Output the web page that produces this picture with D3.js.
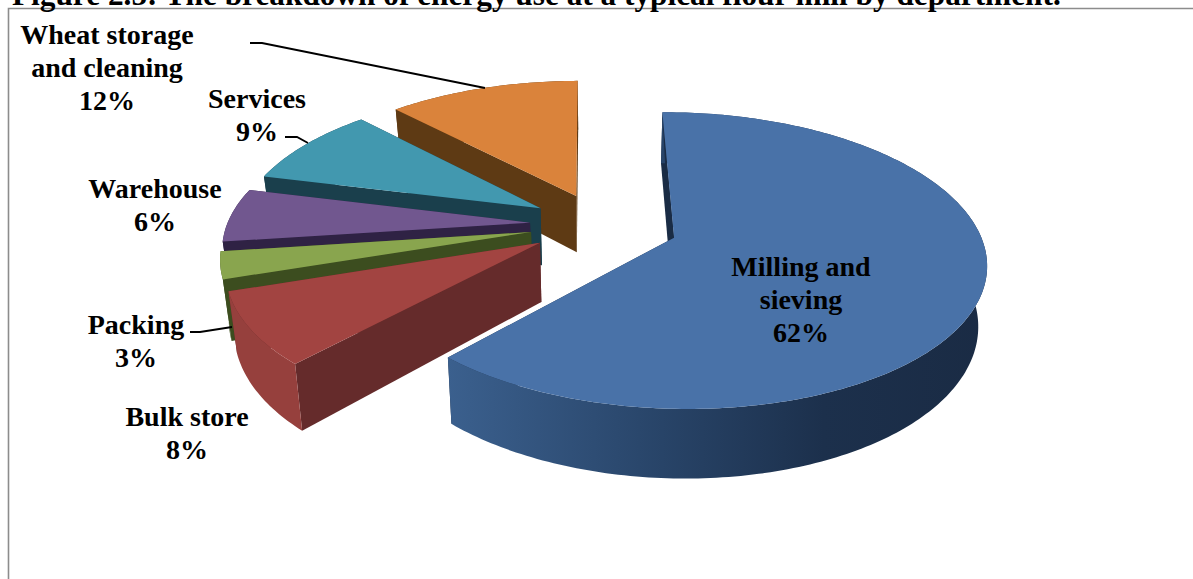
<!DOCTYPE html>
<html><head><meta charset="utf-8">
<script src="https://cdn.jsdelivr.net/npm/d3@7"></script>
<style>html,body{margin:0;padding:0;background:#fff;overflow:hidden}svg{display:block}</style>
</head><body><div id="chart"></div>
<script>
const titleText = "Figure 2.5: The breakdown of energy use at a typical flour mill by department.";
const categories = ["Milling and sieving","Bulk store","Packing","Warehouse","Services","Wheat storage and cleaning"];
const values = [62,8,3,6,9,12];
const topColors = ["#4972a8","#a24441","#89a54e","#71578f","#4298af","#da833b"];
const wallColors = ["#1a2c45","#652b2b","#3c4d1f","#2f2244","#1a3f4c","#5e3a14"];
const bandColors = ["url(#blueSide)","#96403d","#3c4d1f","#2f2244","#1a3f4c","#5e3a14"];
const explosions = [0.255,0.235,0.235,0.235,0.235,0.225];
const labelLines = [["Milling and","sieving","62%"],["Bulk store","8%"],["Packing","3%"],["Warehouse","6%"],["Services","9%"],["Wheat storage","and cleaning","12%"]];

const W=1193,H=579;
const svg=d3.select("#chart").append("svg").attr("width",W).attr("height",H);
const FONT="'Liberation Serif','Times New Roman',serif";

svg.append("path").attr("d",`M8.5,${H}V8.5H${W}`).attr("fill","none").attr("stroke","#8c8c8c").attr("stroke-width",1.6);
svg.append("text").attr("x",12).attr("y",5).attr("font-family",FONT).attr("font-weight","bold")
  .attr("font-size",31.3).attr("fill","#000").text(titleText);

const CX=601,CY=224.5,R=303,TILT=144/310,K=0.1525,DEPTH=58,LEAN=0.023,START=-0.4;
const sx=d3.scaleLinear().domain([0,1]).range([0,R]);
const sy=d3.scaleLinear().domain([0,1]).range([0,R*TILT]);
function project(px,py,bottom){
  const f=1/(1+K*py);
  let X=CX+sx(px)*f, Y=CY-sy(py)*f;
  if(bottom){X-=(X-CX)*LEAN;Y+=DEPTH*f;}
  return [X,Y];
}
const pie=d3.pie().sort(null).startAngle(START*Math.PI/180).endAngle((360+START)*Math.PI/180);
const arcs=pie(values);
const line=d3.line();
const defs=svg.append("defs");
const grad=defs.append("linearGradient").attr("id","blueSide").attr("gradientUnits","userSpaceOnUse")
  .attr("x1",447).attr("x2",985).attr("y1",0).attr("y2",0);
[[0,"#3b608e"],[0.4,"#284468"],[0.7,"#1c304c"],[1,"#1a2b44"]].forEach(s=>grad.append("stop").attr("offset",s[0]).attr("stop-color",s[1]));

const order=[5,4,3,2,1,0];
order.forEach(i=>{
  const a=arcs[i], mid=(a.startAngle+a.endAngle)/2;
  const ox=explosions[i]*Math.sin(mid), oy=explosions[i]*Math.cos(mid);
  const g=svg.append("g");
  const pt=t=>[ox+Math.sin(t),oy+Math.cos(t)];
  const n=Math.ceil((a.endAngle-a.startAngle)*180/Math.PI);
  const ts=d3.range(n+1).map(j=>a.startAngle+(a.endAngle-a.startAngle)*j/n);
  const rim=ts.map(pt);
  const apex=[ox,oy];
  const quad=(p,q)=>[project(...p,false),project(...q,false),project(...q,true),project(...p,true)];
  const walls=[
    {d:quad(apex,rim[0]),c:wallColors[i],y:(apex[1]+rim[0][1])/2},
    {d:quad(apex,rim[n]),c:wallColors[i],y:(apex[1]+rim[n][1])/2}];
  const band={d:rim.map(p=>project(...p,false)).concat(rim.slice().reverse().map(p=>project(...p,true))),c:bandColors[i],y:d3.mean(rim,p=>p[1])};
  const faces = i===0 ? [...walls,band] : [...walls,band].sort((u,v)=>v.y-u.y);
  faces.forEach(f=>g.append("path").attr("d",line(f.d)+"Z").attr("fill",f.c));
  const top=[apex].concat(rim).map(p=>project(...p,false));
  if(i===0){
    const A=top[0],B=top[1];
    g.append("path").attr("d",line([B,[A[0]-5,A[1]+2],A])+"Z").attr("fill",wallColors[0]);
  }
  g.append("path").attr("d",line(top)+"Z").attr("fill",topColors[i]);
});

const labelPos=[[801,276],[187,426],[136,334],[155,198],[257,108],[107,44]];
labelLines.forEach((ls,i)=>{
  const t=svg.append("text").attr("font-family",FONT).attr("font-weight","bold").attr("font-size",28)
    .attr("text-anchor","middle").attr("fill","#000");
  ls.forEach((s,j)=>t.append("tspan").attr("x",labelPos[i][0]).attr("y",labelPos[i][1]+j*33).text(s));
});
[[[250,43],[262,43],[485,88]],[[285,137],[297,137],[308,143]],[[190,332],[200,332],[232,327]]].forEach(p=>
  svg.append("path").attr("d",line(p)).attr("fill","none").attr("stroke","#000").attr("stroke-width",1.8));
</script></body></html>
